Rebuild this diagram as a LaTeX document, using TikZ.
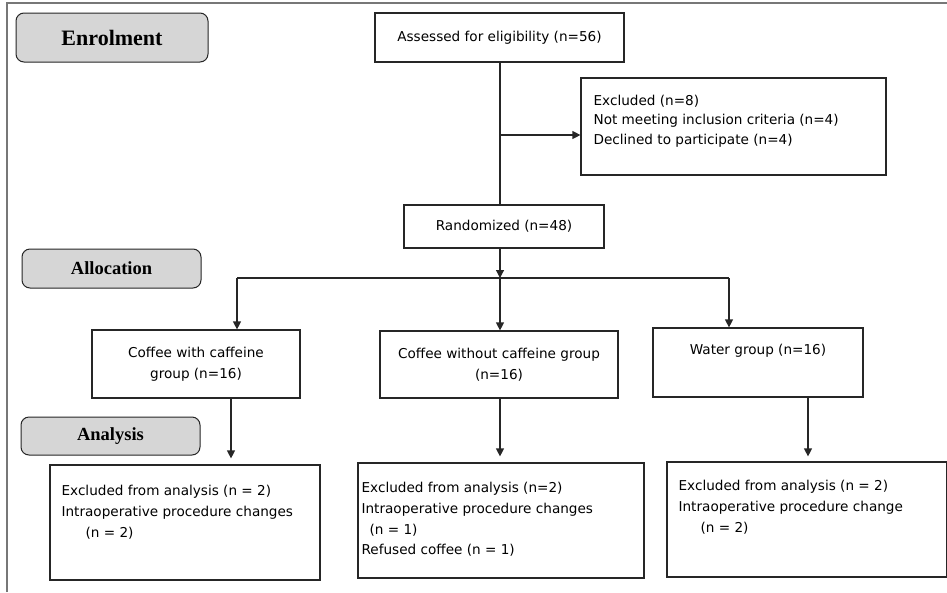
\documentclass[tikz,border=0pt]{standalone}
\usepackage{fontspec}
\setmainfont{DejaVu Sans}
\newfontfamily\labfont{Liberation Serif}
\usetikzlibrary{arrows.meta,calc}
\definecolor{lblfill}{HTML}{D6D6D6}
\definecolor{linec}{HTML}{262626}
\definecolor{framec}{HTML}{777777}
\begin{document}
\begin{tikzpicture}[x=1pt,y=-1pt,
  box/.style={draw=linec,line width=1.2pt,fill=white,inner sep=0pt},
  lbl/.style={draw=linec,line width=1pt,fill=lblfill,rounded corners=8pt,inner sep=0pt,font=\labfont\bfseries\fontsize{18.5}{20}\selectfont},
  txt/.style={inner sep=0pt,font=\fontsize{13.6}{20.8}\selectfont,text=black},
  arr/.style={draw=linec,line width=1.2pt,-{Triangle[length=8pt,width=8pt]}},
  ln/.style={draw=linec,line width=1.2pt}]
\useasboundingbox (0,0) rectangle (947,592);
% frame
\draw[framec,line width=1.2pt] (7,592) -- (7,3) -- (947,3);
% phase labels
\node[lbl,minimum width=192pt,minimum height=49pt,font=\labfont\bfseries\fontsize{22}{24}\selectfont] (enrol) at (112,37.5) {Enrolment};
\node[lbl,minimum width=179pt,minimum height=39pt] (alloc) at (111.5,268.5) {Allocation};
\node[lbl,minimum width=179pt,minimum height=38pt] (anal) at (110.5,436) {Analysis};
% top boxes
\node[box,minimum width=249pt,minimum height=49pt,txt] (assess) at (499.5,37.5) {Assessed for eligibility (n=56)};
\node[box,minimum width=305pt,minimum height=97pt] (excl) at (733.5,126.5) {};
\node[txt,anchor=north west,align=left,font=\fontsize{13.6}{19.3}\selectfont] (excltxt) at ($(excl.north west)+(13,17.5)$) {Excluded (n=8)\\Not meeting inclusion criteria (n=4)\\Declined to participate (n=4)};
\node[box,minimum width=200pt,minimum height=43pt,txt] (rand) at (504,226.5) {Randomized (n=48)};
% group boxes
\node[box,minimum width=208pt,minimum height=68pt,txt,align=center] (g1) at (196,364) {Coffee with caffeine\\group (n=16)};
\node[box,minimum width=238pt,minimum height=67pt,txt,align=center] (g2) at (499,364.5) {Coffee without caffeine group\\(n=16)};
\node[box,minimum width=210pt,minimum height=69pt] (g3) at (758,362.5) {};
\node[txt,anchor=base] (g3txt) at ($(g3.north)+(0,27)$) {Water group (n=16)};
% analysis boxes
\node[box,minimum width=270pt,minimum height=115pt] (a1) at (185,522.5) {};
\node[txt,anchor=north west,align=left] (a1txt) at ($(a1.north west)+(12,20.5)$) {Excluded from analysis (n = 2)\\Intraoperative procedure changes\\\hspace*{24pt}(n = 2)};
\node[box,minimum width=286pt,minimum height=115pt] (a2) at (501,520.5) {};
\node[txt,anchor=north west,align=left] (a2txt) at ($(a2.north west)+(4,19.5)$) {Excluded from analysis (n=2)\\Intraoperative procedure changes\\\hspace*{8pt}(n = 1)\\Refused coffee (n = 1)};
\node[box,minimum width=280pt,minimum height=115pt] (a3) at (807,519.5) {};
\node[txt,anchor=north west,align=left] (a3txt) at ($(a3.north west)+(12,18.5)$) {Excluded from analysis (n = 2)\\Intraoperative procedure change\\\hspace*{22pt}(n = 2)};
% junctions
\coordinate (j1) at (500,135);
\coordinate (j2) at (500,278);
\coordinate (jl) at (237,278);
\coordinate (jr) at (729,278);
% connectors
\draw[ln] (assess.south -| j1) -- (rand.north -| j1);
\draw[arr] (j1) -- (j1 -| excl.west);
\draw[arr] (rand.south -| j2) -- (j2);
\draw[ln] (jl) -- (jr);
\draw[arr] (jl) -- (g1.north -| jl);
\draw[arr] (j2) -- (g2.north -| j2);
\draw[arr] (jr) -- (g3.north -| jr);
\draw[arr,shorten >=6pt] (g1.south -| 231,0) -- (a1.north -| 231,0);
\draw[arr,shorten >=6pt] (g2.south -| 500,0) -- (a2.north -| 500,0);
\draw[arr,shorten >=5pt] (g3.south -| 808,0) -- (a3.north -| 808,0);
\end{tikzpicture}
\end{document}
